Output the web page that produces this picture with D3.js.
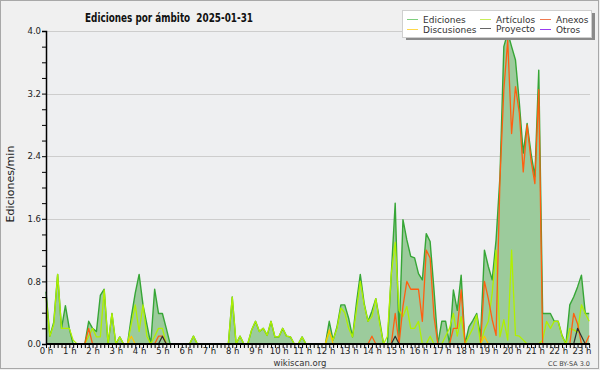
<!DOCTYPE html>
<html><head><meta charset="utf-8">
<script src="https://cdn.jsdelivr.net/npm/d3@7"></script>
<style>body{margin:0;background:#f0f0f0}svg{display:block}</style>
</head><body><svg id="c" width="600" height="370"></svg>
<script>
// 10-minute slots, 0:00 .. 23:20 (141 points), values in ediciones/min
const ediciones = [
 0.67,0.10,0.28,0.89,0.20,0.49, 0.20,0,0,0,0,0.29, 0.20,0.16,0.62,0.70,0,0.39, 0,0.09,0,0,0.35,0.65,
 0.89,0.50,0.25,0,0.70,0.39, 0.39,0.20,0,0,0,0, 0,0,0.10,0,0,0, 0,0,0,0,0,0,
 0.60,0,0.10,0,0,0.18, 0.29,0.16,0.20,0.11,0.29,0.09, 0.09,0.20,0.10,0.09,0,0, 0.09,0,0,0,0,0,
 0,0.29,0.05,0.22,0.50,0.50, 0.33,0.09,0.52,0.89,0.52,0.29, 0.42,0.58,0.30,0,0,0.90, 1.80,0.09,1.59,1.33,1.12,1.10,
 0.90,0.82,1.41,1.31,0.69,0, 0.29,0.29,0,0.69,0.43,0.88, 0,0.22,0.30,0.39,0.10,1.20, 0.99,0.82,1.33,2.14,3.80,3.98,
 3.80,3.63,3.08,2.44,2.82,2.44, 2.14,3.50,0.39,0.39,0.39,0.29, 0.29,0.11,0,0.50,0.60,0.73, 0.88,0.39,0.39
];
const articulos = [
 0.60,0.10,0.25,0.89,0.20,0.20, 0.20,0.05,0,0,0,0.10, 0.20,0.09,0.09,0.69,0,0.39, 0,0.09,0,0,0.26,0.50,
 0.16,0.50,0.10,0,0.10,0.20, 0.20,0,0,0,0,0, 0,0,0.10,0,0,0, 0,0,0,0,0,0,
 0.60,0,0.10,0,0,0.18, 0.29,0.16,0.20,0.11,0.29,0.09, 0.09,0.20,0.10,0.09,0,0, 0.09,0,0,0,0,0,
 0,0.15,0.05,0.20,0.46,0.40, 0.20,0.09,0.43,0.80,0.50,0.29, 0.35,0.58,0.26,0,0.10,0.90, 1.30,0.43,0.35,0.48,0.20,0.20,
 0.29,0,0,0.10,0,0, 0,0.10,0.20,0.39,0.10,0.35, 0,0.10,0.20,0.37,0,0.18, 0.29,0.65,1.20,0.09,0.31,0.05,
 1.20,0.11,0.10,0.05,0,0, 0,0,0.05,0.29,0.20,0.29, 0.29,0.10,0,0.20,0.18,0.15, 0.50,0.39,0.29
];
const anexos = [
 0,0,0,0,0,0, 0,0,0,0,0,0.20, 0,0,0,0,0,0, 0,0,0,0,0,0,
 0,0,0,0,0,0.10, 0.10,0,0,0,0,0, 0,0,0,0,0,0, 0,0,0,0,0,0,
 0,0,0,0,0,0, 0,0,0,0,0,0, 0,0,0,0,0,0, 0,0,0,0,0,0,
 0,0,0,0,0,0, 0,0,0,0,0,0, 0.10,0,0,0,0,0, 0.39,0,0.48,0.80,0.70,0.70,
 0.70,0.29,1.20,1.10,0.35,0, 0,0,0,0.20,0.20,0.69, 0,0,0,0,0,0.80, 0.58,0.31,0.11,2.10,3.25,3.88,
 2.69,3.29,2.95,2.20,2.80,2.35, 2.05,3.25,0,0,0,0, 0,0,0,0,0.39,0.26, 0,0,0.11
];
const discusiones = [
 0,0,0,0,0,0, 0,0,0,0,0,0, 0,0,0,0,0,0, 0,0,0,0,0.10,0,
 0,0,0,0,0,0, 0,0,0,0,0,0, 0,0,0,0,0,0, 0,0,0,0,0,0,
 0,0,0,0,0,0, 0,0,0,0,0,0, 0,0,0,0,0,0, 0,0,0,0,0,0,
 0,0.18,0,0,0,0, 0,0,0,0,0,0, 0,0,0,0,0,0, 0,0,0,0,0,0,
 0,0,0,0,0,0, 0,0,0,0,0,0, 0,0,0,0,0,0.10, 0,0,0,0,0,0,
 0,0,0,0,0,0, 0,0,0,0,0,0, 0,0,0,0,0,0, 0,0,0
];
const proyecto = [
 0,0,0,0,0,0, 0,0,0,0,0,0, 0,0,0,0,0,0, 0,0,0,0,0,0,
 0,0,0,0,0,0, 0.10,0,0,0,0,0, 0,0,0,0,0,0, 0,0,0,0,0,0,
 0,0,0,0,0,0, 0,0,0,0,0,0, 0,0,0,0,0,0, 0,0,0,0,0,0,
 0,0,0,0,0,0, 0,0,0,0,0,0, 0,0,0,0,0,0, 0.10,0,0,0,0,0,
 0,0,0,0,0,0, 0,0,0,0,0,0, 0,0,0,0,0,0, 0,0,0,0,0,0,
 0,0,0,0,0,0, 0,0,0,0,0,0, 0,0,0,0,0,0.20, 0.10,0,0
];
const otros = ediciones.map(() => 0);
const seriesNames = ["Ediciones","Artículos","Anexos","Discusiones","Proyecto","Otros"];
const yTicks = [0,0.2,0.4,0.6,0.8,1.0,1.2,1.4,1.6,1.8,2.0,2.2,2.4,2.6,2.8,3.0,3.2,3.4,3.6,3.8,4.0];
const yLabels = [0,0.8,1.6,2.4,3.2,4.0];
const hourLabels = d3.range(0,24).map(h => h + " h");
const title = "Ediciones por ámbito  2025-01-31";

const svg = d3.select("#c");
const W = 600, H = 370;
const x0 = 46, step = 3.88;
const x = d3.scaleLinear().domain([0, ediciones.length-1]).range([x0, x0 + step*(ediciones.length-1)]);
const y = d3.scaleLinear().domain([0,4]).range([344,31]);
const plotRight = 590;

svg.append("rect").attr("x",0.5).attr("y",0.5).attr("width",W-2).attr("height",H-2)
  .attr("fill","#f0f0f0").attr("stroke","#a8a8a8");
svg.append("rect").attr("x",x0).attr("y",y(4)).attr("width",plotRight-x0).attr("height",y(0)-y(4))
  .attr("fill","#eeeff1");

// grid
svg.append("g").selectAll("line").data(yLabels.filter(d=>d>0)).join("line")
  .attr("x1",x0).attr("x2",plotRight).attr("y1",d=>Math.round(y(d))+0.5).attr("y2",d=>Math.round(y(d))+0.5)
  .attr("stroke","#cdcdcd").attr("stroke-width",1);

// Ediciones area
const idx = d3.range(ediciones.length);
svg.append("path").datum(idx)
  .attr("d", d3.area().x(i=>x(i)).y0(y(0)).y1(i=>y(ediciones[i])))
  .attr("fill","#9ccb9c");

const colors = {
  ediciones:"#36a636", articulos:"#b0f000", anexos:"#ff5f10", discusiones:"#ffc400", proyecto:"#303030", otros:"#9a3cf0"
};
const legendColors = ["#7fcf7f","#c8ee5a","#f07a50","#ffd84a","#666666","#9a3cf0"];
function drawLine(vals, col, w){
  svg.append("path").datum(idx)
    .attr("d", d3.line().x(i=>x(i)).y(i=>y(vals[i])))
    .attr("fill","none").attr("stroke",col).attr("stroke-width",w).attr("stroke-linejoin","round");
}
drawLine(otros, colors.otros, 1.2);
drawLine(ediciones, colors.ediciones, 1.4);
drawLine(articulos, colors.articulos, 1.3);
drawLine(anexos, colors.anexos, 1.3);
drawLine(discusiones, colors.discusiones, 1.2);
drawLine(proyecto, colors.proyecto, 1.2);

// y axis
const yAxis = d3.axisLeft(y).tickValues(yTicks).tickSize(4)
  .tickFormat(d => yLabels.some(v=>Math.abs(v-d)<1e-6) ? d.toFixed(1) : "");
const gy = svg.append("g").attr("transform",`translate(${x0},0)`).call(yAxis);
gy.select(".domain").attr("stroke","#000").attr("stroke-width",1.5);
gy.selectAll(".tick line").attr("stroke","#000");
gy.selectAll("text").attr("font-family","DejaVu Sans").attr("font-size",8.5).attr("fill","#222").attr("x",-5);

// x axis
const xAxis = d3.axisBottom(x).tickValues(idx).tickSize(4)
  .tickFormat(i => i%6===0 ? hourLabels[i/6] : "");
const gx = svg.append("g").attr("transform",`translate(0,${y(0)})`).call(xAxis);
gx.select(".domain").attr("d",`M${x0},0H${plotRight}`).attr("stroke","#000").attr("stroke-width",2);
gx.selectAll(".tick line").attr("stroke","#000");
gx.selectAll("text").attr("font-family","DejaVu Sans").attr("font-size",8.5).attr("fill","#222").attr("y",4);

// title
svg.append("text").attr("x",85).attr("y",22).text(title).style("white-space","pre")
  .attr("font-family","DejaVu Sans").attr("font-weight","bold").attr("font-size",13).attr("fill","#111")
  .attr("textLength",168).attr("lengthAdjust","spacingAndGlyphs");

// y label
svg.append("text").attr("transform","translate(14,184) rotate(-90)").attr("text-anchor","middle")
  .text("Ediciones/min").attr("font-family","DejaVu Sans").attr("font-size",11).attr("fill","#222");

// footer
svg.append("text").attr("x",300).attr("y",366).attr("text-anchor","middle").text("wikiscan.org")
  .attr("font-family","DejaVu Sans").attr("font-size",8.5).attr("fill","#333");
svg.append("text").attr("x",590).attr("y",366).attr("text-anchor","end").text("CC BY-SA 3.0")
  .attr("font-family","DejaVu Sans").attr("font-size",6.5).attr("fill","#444");

// legend
const lg = svg.append("g");
lg.append("rect").attr("x",406).attr("y",13).attr("width",189).attr("height",27).attr("fill","#8a8a8a");
lg.append("rect").attr("x",402.5).attr("y",10.5).attr("width",189).attr("height",27).attr("fill","#ffffff").attr("stroke","#cfcfcf");
const legPos = [[407,19],[480,19],[540,19],[407,29],[480,28],[540,29]];
seriesNames.forEach((n,k)=>{
  const [lx,ly] = legPos[k];
  lg.append("line").attr("x1",lx).attr("x2",lx+11).attr("y1",ly+0.5).attr("y2",ly+0.5)
    .attr("stroke",legendColors[k]).attr("stroke-width",1);
  lg.append("text").attr("x",lx+16).attr("y",ly+3.5).text(n)
    .attr("font-family","DejaVu Sans").attr("font-size",9).attr("fill","#333");
});
</script></body></html>
